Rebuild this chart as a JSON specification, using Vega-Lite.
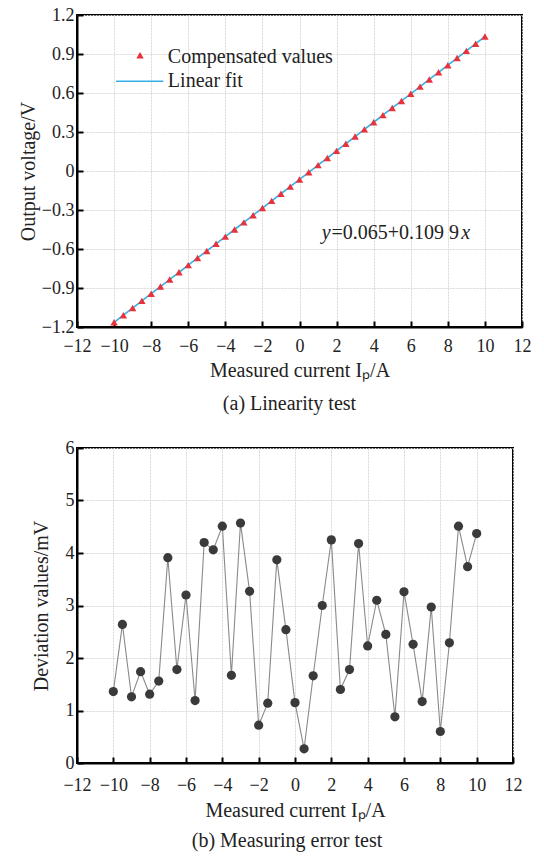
{
  "$schema": "https://vega.github.io/schema/vega-lite/v6.json",
  "background": "white",
  "padding": {"left": 17, "top": 5, "right": 5, "bottom": 5},
  "spacing": 23,
  "columns": 1,
  "config": {
    "font": "Liberation Serif",
    "view": {"stroke": "black", "strokeWidth": 2},
    "axis": {
      "domainColor": "black", "domainWidth": 2,
      "tickColor": "black", "tickWidth": 2, "tickSize": -6,
      "labelOverlap": false, "labelFlush": false, "labelBound": false,
      "labelFont": "Liberation Serif", "labelFontSize": 18, "labelColor": "#222",
      "titleFont": "Liberation Serif", "titleFontSize": 20, "titleFontWeight": "normal", "titleColor": "#222",
      "gridColor": "#d8d8d8", "gridWidth": 1, "gridDash": [2, 1]
    },
    "axisX": {"labelPadding": 16},
    "axisY": {"labelPadding": 9, "minExtent": 0},
    "title": {"font": "Liberation Serif", "fontSize": 20, "fontWeight": "normal", "color": "#222"}
  },
  "concat": [
    {
      "width": 445,
      "height": 312,
      "title": {"text": "(a) Linearity test", "orient": "bottom", "frame": "group", "offset": 14, "dx": -10},
      "data": {"values": [
        {"current": -10, "voltage": -1.164}, {"current": -9.5, "voltage": -1.109}, {"current": -9, "voltage": -1.054},
        {"current": -8.5, "voltage": -0.999}, {"current": -8, "voltage": -0.944}, {"current": -7.5, "voltage": -0.889},
        {"current": -7, "voltage": -0.834}, {"current": -6.5, "voltage": -0.779}, {"current": -6, "voltage": -0.724},
        {"current": -5.5, "voltage": -0.669}, {"current": -5, "voltage": -0.615}, {"current": -4.5, "voltage": -0.560},
        {"current": -4, "voltage": -0.505}, {"current": -3.5, "voltage": -0.450}, {"current": -3, "voltage": -0.395},
        {"current": -2.5, "voltage": -0.340}, {"current": -2, "voltage": -0.285}, {"current": -1.5, "voltage": -0.230},
        {"current": -1, "voltage": -0.175}, {"current": -0.5, "voltage": -0.120}, {"current": 0, "voltage": -0.065},
        {"current": 0.5, "voltage": -0.010}, {"current": 1, "voltage": 0.045}, {"current": 1.5, "voltage": 0.100},
        {"current": 2, "voltage": 0.155}, {"current": 2.5, "voltage": 0.210}, {"current": 3, "voltage": 0.265},
        {"current": 3.5, "voltage": 0.320}, {"current": 4, "voltage": 0.375}, {"current": 4.5, "voltage": 0.430},
        {"current": 5, "voltage": 0.485}, {"current": 5.5, "voltage": 0.539}, {"current": 6, "voltage": 0.594},
        {"current": 6.5, "voltage": 0.649}, {"current": 7, "voltage": 0.704}, {"current": 7.5, "voltage": 0.759},
        {"current": 8, "voltage": 0.814}, {"current": 8.5, "voltage": 0.869}, {"current": 9, "voltage": 0.924},
        {"current": 9.5, "voltage": 0.979}, {"current": 10, "voltage": 1.034}
      ]},
      "layer": [
        {
          "mark": {"type": "line", "color": "#35b0e6", "strokeWidth": 1.6},
          "encoding": {
            "x": {"field": "current", "type": "quantitative", "scale": {"domain": [-12, 12], "nice": false},
              "axis": {"values": [-12, -10, -8, -6, -4, -2, 0, 2, 4, 6, 8, 10, 12], "title": "Measured current Iₚ/A", "titlePadding": 5}},
            "y": {"field": "voltage", "type": "quantitative", "scale": {"domain": [-1.2, 1.2], "nice": false},
              "axis": {"values": [-1.2, -0.9, -0.6, -0.3, 0, 0.3, 0.6, 0.9, 1.2], "labelExpr": "datum.value == 0 ? '0' : format(datum.value, '.1f')", "title": "Output voltage/V", "titlePadding": 3}}
          }
        },
        {
          "mark": {"type": "point", "shape": "triangle-up", "filled": true, "color": "#e8323c", "size": 55, "opacity": 1},
          "encoding": {
            "x": {"field": "current", "type": "quantitative", "scale": {"domain": [-12, 12], "nice": false},
              "axis": {"values": [-12, -10, -8, -6, -4, -2, 0, 2, 4, 6, 8, 10, 12], "title": "Measured current Iₚ/A", "titlePadding": 5}},
            "y": {"field": "voltage", "type": "quantitative", "scale": {"domain": [-1.2, 1.2], "nice": false},
              "axis": {"values": [-1.2, -0.9, -0.6, -0.3, 0, 0.3, 0.6, 0.9, 1.2], "labelExpr": "datum.value == 0 ? '0' : format(datum.value, '.1f')", "title": "Output voltage/V", "titlePadding": 3}}
          }
        },
        {
          "data": {"values": [{}]},
          "mark": {"type": "point", "shape": "triangle-up", "filled": true, "color": "#e8323c", "size": 55, "opacity": 1},
          "encoding": {
            "x": {"datum": -8.6, "type": "quantitative", "scale": {"domain": [-12, 12], "nice": false},
              "axis": {"values": [-12, -10, -8, -6, -4, -2, 0, 2, 4, 6, 8, 10, 12], "title": "Measured current Iₚ/A", "titlePadding": 5}},
            "y": {"datum": 0.89, "type": "quantitative", "scale": {"domain": [-1.2, 1.2], "nice": false},
              "axis": {"values": [-1.2, -0.9, -0.6, -0.3, 0, 0.3, 0.6, 0.9, 1.2], "labelExpr": "datum.value == 0 ? '0' : format(datum.value, '.1f')", "title": "Output voltage/V", "titlePadding": 3}}
          }
        },
        {
          "data": {"values": [{}]},
          "mark": {"type": "rule", "color": "#35b0e6", "strokeWidth": 1.6},
          "encoding": {
            "x": {"datum": -9.9, "type": "quantitative", "scale": {"domain": [-12, 12], "nice": false},
              "axis": {"values": [-12, -10, -8, -6, -4, -2, 0, 2, 4, 6, 8, 10, 12], "title": "Measured current Iₚ/A", "titlePadding": 5}},
            "x2": {"datum": -7.35},
            "y": {"datum": 0.69, "type": "quantitative", "scale": {"domain": [-1.2, 1.2], "nice": false},
              "axis": {"values": [-1.2, -0.9, -0.6, -0.3, 0, 0.3, 0.6, 0.9, 1.2], "labelExpr": "datum.value == 0 ? '0' : format(datum.value, '.1f')", "title": "Output voltage/V", "titlePadding": 3}}
          }
        },
        {
          "data": {"values": [{}]},
          "mark": {"type": "text", "align": "left", "baseline": "middle", "fontSize": 20, "color": "#222"},
          "encoding": {
            "x": {"datum": -7.1, "type": "quantitative", "scale": {"domain": [-12, 12], "nice": false},
              "axis": {"values": [-12, -10, -8, -6, -4, -2, 0, 2, 4, 6, 8, 10, 12], "title": "Measured current Iₚ/A", "titlePadding": 5}},
            "y": {"datum": 0.875, "type": "quantitative", "scale": {"domain": [-1.2, 1.2], "nice": false},
              "axis": {"values": [-1.2, -0.9, -0.6, -0.3, 0, 0.3, 0.6, 0.9, 1.2], "labelExpr": "datum.value == 0 ? '0' : format(datum.value, '.1f')", "title": "Output voltage/V", "titlePadding": 3}},
            "text": {"value": "Compensated values"}
          }
        },
        {
          "data": {"values": [{}]},
          "mark": {"type": "text", "align": "left", "baseline": "middle", "fontSize": 20, "color": "#222"},
          "encoding": {
            "x": {"datum": -7.1, "type": "quantitative", "scale": {"domain": [-12, 12], "nice": false},
              "axis": {"values": [-12, -10, -8, -6, -4, -2, 0, 2, 4, 6, 8, 10, 12], "title": "Measured current Iₚ/A", "titlePadding": 5}},
            "y": {"datum": 0.69, "type": "quantitative", "scale": {"domain": [-1.2, 1.2], "nice": false},
              "axis": {"values": [-1.2, -0.9, -0.6, -0.3, 0, 0.3, 0.6, 0.9, 1.2], "labelExpr": "datum.value == 0 ? '0' : format(datum.value, '.1f')", "title": "Output voltage/V", "titlePadding": 3}},
            "text": {"value": "Linear fit"}
          }
        },
        {
          "data": {"values": [{}]},
          "mark": {"type": "text", "align": "left", "baseline": "middle", "fontSize": 20, "fontStyle": "italic", "color": "#222"},
          "encoding": {
            "x": {"datum": 1.2, "type": "quantitative", "scale": {"domain": [-12, 12], "nice": false},
              "axis": {"values": [-12, -10, -8, -6, -4, -2, 0, 2, 4, 6, 8, 10, 12], "title": "Measured current Iₚ/A", "titlePadding": 5}},
            "y": {"datum": -0.48, "type": "quantitative", "scale": {"domain": [-1.2, 1.2], "nice": false},
              "axis": {"values": [-1.2, -0.9, -0.6, -0.3, 0, 0.3, 0.6, 0.9, 1.2], "labelExpr": "datum.value == 0 ? '0' : format(datum.value, '.1f')", "title": "Output voltage/V", "titlePadding": 3}},
            "text": {"value": "y"}
          }
        },
        {
          "data": {"values": [{}]},
          "mark": {"type": "text", "align": "left", "baseline": "middle", "fontSize": 20, "color": "#222"},
          "encoding": {
            "x": {"datum": 1.72, "type": "quantitative", "scale": {"domain": [-12, 12], "nice": false},
              "axis": {"values": [-12, -10, -8, -6, -4, -2, 0, 2, 4, 6, 8, 10, 12], "title": "Measured current Iₚ/A", "titlePadding": 5}},
            "y": {"datum": -0.48, "type": "quantitative", "scale": {"domain": [-1.2, 1.2], "nice": false},
              "axis": {"values": [-1.2, -0.9, -0.6, -0.3, 0, 0.3, 0.6, 0.9, 1.2], "labelExpr": "datum.value == 0 ? '0' : format(datum.value, '.1f')", "title": "Output voltage/V", "titlePadding": 3}},
            "text": {"value": "=0.065+0.109 9"}
          }
        },
        {
          "data": {"values": [{}]},
          "mark": {"type": "text", "align": "left", "baseline": "middle", "fontSize": 20, "fontStyle": "italic", "color": "#222"},
          "encoding": {
            "x": {"datum": 8.72, "type": "quantitative", "scale": {"domain": [-12, 12], "nice": false},
              "axis": {"values": [-12, -10, -8, -6, -4, -2, 0, 2, 4, 6, 8, 10, 12], "title": "Measured current Iₚ/A", "titlePadding": 5}},
            "y": {"datum": -0.48, "type": "quantitative", "scale": {"domain": [-1.2, 1.2], "nice": false},
              "axis": {"values": [-1.2, -0.9, -0.6, -0.3, 0, 0.3, 0.6, 0.9, 1.2], "labelExpr": "datum.value == 0 ? '0' : format(datum.value, '.1f')", "title": "Output voltage/V", "titlePadding": 3}},
            "text": {"value": "x"}
          }
        }
      ]
    },
    {
      "width": 436,
      "height": 315,
      "title": {"text": "(b) Measuring error test", "orient": "bottom", "frame": "group", "offset": 11, "dx": -8},
      "data": {"values": [
        {"current": -10, "deviation": 1.36}, {"current": -9.5, "deviation": 2.64}, {"current": -9, "deviation": 1.26},
        {"current": -8.5, "deviation": 1.74}, {"current": -8, "deviation": 1.31}, {"current": -7.5, "deviation": 1.56},
        {"current": -7, "deviation": 3.91}, {"current": -6.5, "deviation": 1.78}, {"current": -6, "deviation": 3.2},
        {"current": -5.5, "deviation": 1.19}, {"current": -5, "deviation": 4.2}, {"current": -4.5, "deviation": 4.06},
        {"current": -4, "deviation": 4.51}, {"current": -3.5, "deviation": 1.67}, {"current": -3, "deviation": 4.57},
        {"current": -2.5, "deviation": 3.27}, {"current": -2, "deviation": 0.72}, {"current": -1.5, "deviation": 1.14},
        {"current": -1, "deviation": 3.87}, {"current": -0.5, "deviation": 2.54}, {"current": 0, "deviation": 1.15},
        {"current": 0.5, "deviation": 0.27}, {"current": 1, "deviation": 1.66}, {"current": 1.5, "deviation": 3.0},
        {"current": 2, "deviation": 4.25}, {"current": 2.5, "deviation": 1.4}, {"current": 3, "deviation": 1.78},
        {"current": 3.5, "deviation": 4.18}, {"current": 4, "deviation": 2.23}, {"current": 4.5, "deviation": 3.1},
        {"current": 5, "deviation": 2.45}, {"current": 5.5, "deviation": 0.88}, {"current": 6, "deviation": 3.26},
        {"current": 6.5, "deviation": 2.26}, {"current": 7, "deviation": 1.17}, {"current": 7.5, "deviation": 2.97},
        {"current": 8, "deviation": 0.6}, {"current": 8.5, "deviation": 2.29}, {"current": 9, "deviation": 4.51},
        {"current": 9.5, "deviation": 3.74}, {"current": 10, "deviation": 4.37}
      ]},
      "encoding": {
        "x": {"field": "current", "type": "quantitative",
          "scale": {"domain": [-12, 12], "nice": false},
          "axis": {"values": [-12, -10, -8, -6, -4, -2, 0, 2, 4, 6, 8, 10, 12], "title": "Measured current Iₚ/A", "labelPadding": 19, "titlePadding": 6}},
        "y": {"field": "deviation", "type": "quantitative",
          "scale": {"domain": [0, 6], "nice": false},
          "axis": {"values": [0, 1, 2, 3, 4, 5, 6], "title": "Deviation values/mV", "titlePadding": 14}}
      },
      "layer": [
        {"mark": {"type": "line", "color": "#8a8a8a", "strokeWidth": 1.1}},
        {"mark": {"type": "point", "shape": "circle", "filled": true, "color": "#3a3a3a", "size": 85, "opacity": 1}}
      ]
    }
  ]
}
